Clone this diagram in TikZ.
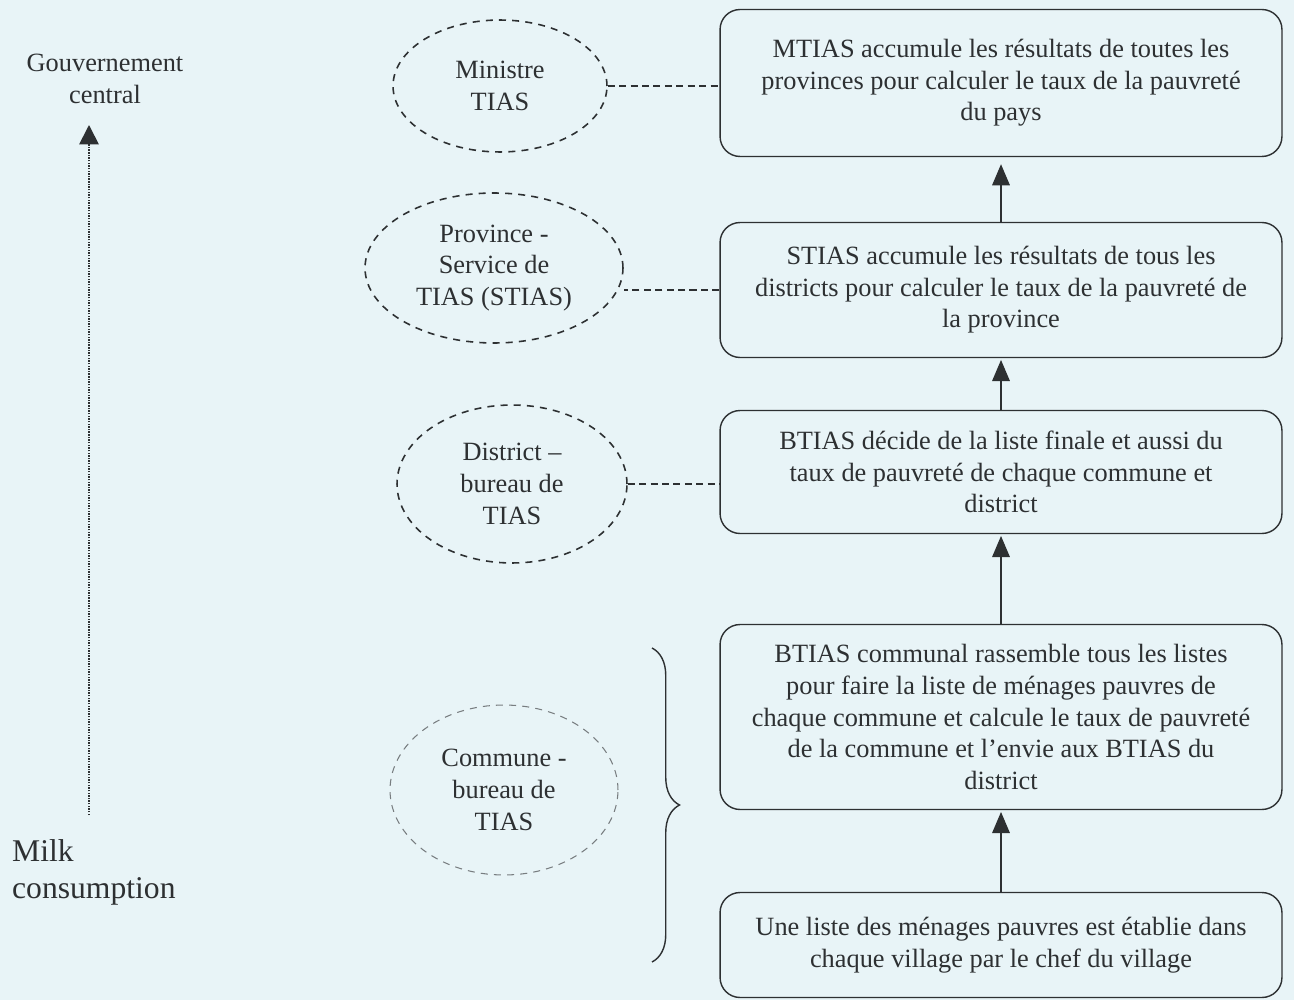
\documentclass[tikz,border=0pt]{standalone}
\usepackage{fontspec}
\setmainfont{Liberation Serif}
\usetikzlibrary{arrows.meta,shapes.geometric,decorations.pathreplacing}

\definecolor{paper}{RGB}{232,244,247}
\definecolor{ink}{RGB}{45,48,50}
\definecolor{faint}{RGB}{120,125,128}

\begin{document}
\begin{tikzpicture}[x=0.02cm,y=-0.02cm,ink,
  every node/.style={font=\fontsize{15}{18}\selectfont,text=ink},
  box/.style={draw,thick,rounded corners=0.4cm,align=center,minimum width=11.24cm,inner sep=2pt},
  level/.style={draw,ellipse,align=center,line width=0.9pt,dash pattern=on 4pt off 3.5pt,inner sep=0pt}]

  % scanned page
  \fill[paper] (0,0) rectangle (1294,1000);
  \useasboundingbox (0,0) rectangle (1294,1000);

  % left scale
  \node[align=center] (G) at (105,79) {Gouvernement\\central};
  \node[align=left,anchor=north west,font=\fontsize{18}{21}\selectfont] (M) at (6,833) {Milk\\consumption};
  \coordinate (M-top) at (89,815);
  \coordinate (G-low) at (89,125);
  \draw[line width=1pt,dash pattern=on 0.8pt off 0.7pt,-{Triangle[width=11pt,length=11pt]}] (M-top) -- (G-low);

  % levels (ellipses)
  \node[level,minimum width=4.28cm,minimum height=2.64cm] (L-1) at (500,86) {Ministre\\TIAS};
  \node[level,minimum width=5.16cm,minimum height=3.0cm] (L-2) at (494,268) {Province -\\Service de\\TIAS (STIAS)};
  \node[level,minimum width=4.6cm,minimum height=3.16cm] (L-3) at (512,484) {District --\\bureau de\\TIAS};
  \node[level,draw=faint,line width=0.6pt,minimum width=4.56cm,minimum height=3.4cm] (L-4) at (504,790) {Commune -\\bureau de\\TIAS};

  % tasks (boxes)
  \node[box,minimum height=2.94cm] (B-1) at (1001,83) {MTIAS accumule les résultats de toutes les\\provinces pour calculer le taux de la pauvreté\\du pays};
  \node[box,minimum height=2.7cm] (B-2) at (1001,290) {STIAS accumule les résultats de tous les\\districts pour calculer le taux de la pauvreté de\\la province};
  \node[box,minimum height=2.46cm] (B-3) at (1001,472) {BTIAS décide de la liste finale et aussi du\\taux de pauvreté de chaque commune et\\district};
  \node[box,minimum height=3.7cm] (B-4) at (1001,717) {BTIAS communal rassemble tous les listes\\pour faire la liste de ménages pauvres de\\chaque commune et calcule le taux de pauvreté\\de la commune et l’envie aux BTIAS du\\district};
  \node[box,minimum height=2.1cm] (B-5) at (1001,945) {Une liste des ménages pauvres est établie dans\\chaque village par le chef du village};

  \path (B-5) edge[thick,-{Triangle[width=10pt,length=12pt]},shorten >=1pt] (B-4);
  \path (B-4) edge[thick,-{Triangle[width=10pt,length=12pt]},shorten >=1pt] (B-3);
  \path (B-3) edge[thick,-{Triangle[width=10pt,length=12pt]},shorten >=1pt] (B-2);
  \path (B-2) edge[thick,-{Triangle[width=10pt,length=12pt]},shorten >=4pt] (B-1);

  \path (L-1) edge[thick,dash pattern=on 4pt off 2.5pt] (B-1.west |- L-1);
  \path (B-2.west) edge[thick,dash pattern=on 4pt off 2.5pt] (L-2.east |- B-2.west);
  \path (L-3) edge[thick,dash pattern=on 4pt off 2.5pt] (B-3.west |- L-3);

  % brace for the commune level
  \draw[thick,decorate,decoration={brace,amplitude=0.55cm}] (652,648) -- (652,962);

\end{tikzpicture}
\end{document}
